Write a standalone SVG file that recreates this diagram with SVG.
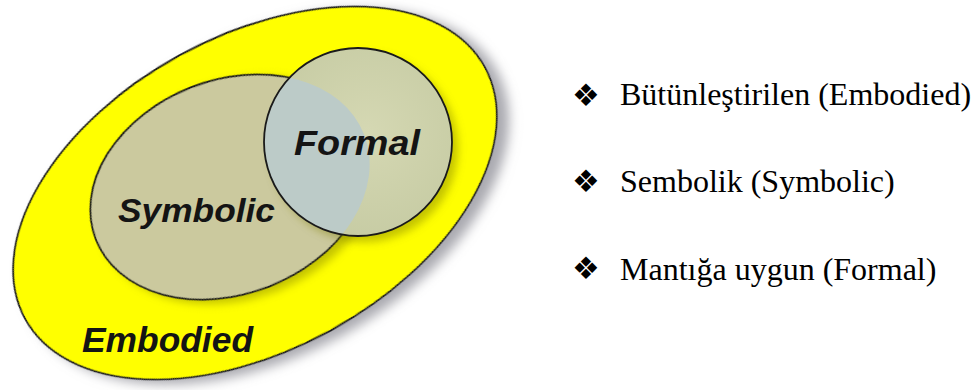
<svg xmlns="http://www.w3.org/2000/svg" width="977" height="390" viewBox="0 0 977 390">
  <style>
    .outline { stroke: #1a1a1a; stroke-width: 1.8; }
    .label { font-family: "Liberation Sans", Arial, sans-serif; font-weight: bold; font-style: italic; fill: #141414; }
    .item { font-family: "Liberation Serif", "Times New Roman", serif; font-size: 32px; fill: #000; }
    .bullet { font-family: "DejaVu Sans", sans-serif; font-size: 31px; fill: #000; text-anchor: middle; }
  </style>
  <defs>
    <filter id="shadowOuter" x="-10%" y="-10%" width="125%" height="130%">
      <feDropShadow dx="8" dy="9" stdDeviation="6" flood-color="#7d7d86" flood-opacity="0.65"/>
    </filter>
    <filter id="shadowInner" x="-10%" y="-10%" width="125%" height="125%">
      <feDropShadow dx="6" dy="6" stdDeviation="4" flood-color="#7a7a10" flood-opacity="0.45"/>
    </filter>
    <clipPath id="circleClip">
      <circle cx="358" cy="142" r="94"/>
    </clipPath>
    <radialGradient id="formalGrad" cx="0.55" cy="0.45" r="0.6">
      <stop offset="0" stop-color="#d5d8b3"/>
      <stop offset="1" stop-color="#c6cba3"/>
    </radialGradient>
  </defs>

  <rect width="977" height="390" fill="#ffffff"/>

  <g id="node-embodied">
    <ellipse cx="255" cy="193" rx="262" ry="157" transform="rotate(-28.7 255 193)" fill="#ffff00" class="outline" filter="url(#shadowOuter)"/>
    <text class="label" x="82" y="352" font-size="35" textLength="171" lengthAdjust="spacingAndGlyphs">Embodied</text>
  </g>

  <g id="node-symbolic">
    <ellipse cx="230" cy="187" rx="144" ry="107" transform="rotate(-21.4 230 187)" fill="#cbc99e" class="outline" filter="url(#shadowInner)"/>
    <text class="label" x="118" y="222" font-size="34" textLength="157" lengthAdjust="spacingAndGlyphs">Symbolic</text>
  </g>

  <g id="node-formal">
    <circle cx="358" cy="142" r="94" fill="url(#formalGrad)" filter="url(#shadowInner)"/>
    <g clip-path="url(#circleClip)">
      <ellipse cx="230" cy="187" rx="144" ry="107" transform="rotate(-21.4 230 187)" fill="#bccbc8"/>
    </g>
    <circle cx="358" cy="142" r="94" fill="none" class="outline"/>
    <text class="label" x="294" y="155" font-size="35" textLength="126" lengthAdjust="spacingAndGlyphs">Formal</text>
  </g>

  <g id="legend-embodied">
    <text class="bullet" x="586" y="106">❖</text>
    <text class="item" x="620" y="105">Bütünleştirilen (Embodied)</text>
  </g>
  <g id="legend-symbolic">
    <text class="bullet" x="586" y="192">❖</text>
    <text class="item" x="620" y="192">Sembolik (Symbolic)</text>
  </g>
  <g id="legend-formal">
    <text class="bullet" x="586" y="279">❖</text>
    <text class="item" x="620" y="280">Mantığa uygun (Formal)</text>
  </g>
</svg>
